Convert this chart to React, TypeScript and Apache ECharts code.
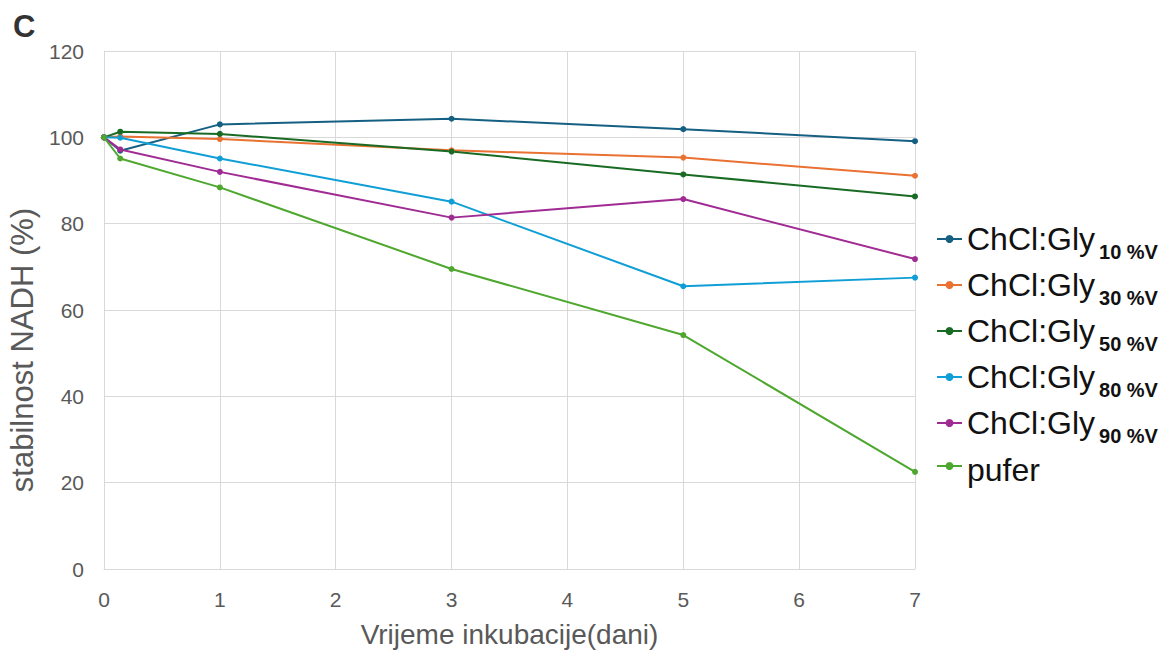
import React, { useEffect, useRef } from "react";
import * as echarts from "echarts";

const days = [0, 0.14, 1, 3, 5, 7];
const seriesNames = [
  "ChCl:Gly 10 %V",
  "ChCl:Gly 30 %V",
  "ChCl:Gly 50 %V",
  "ChCl:Gly 80 %V",
  "ChCl:Gly 90 %V",
  "pufer",
];
const gly10 = [100, 96.9, 103.0, 104.3, 101.9, 99.1];
const gly30 = [100, 100.2, 99.6, 97.0, 95.3, 91.1];
const gly50 = [100, 101.3, 100.8, 96.7, 91.4, 86.3];
const gly80 = [100, 99.9, 95.1, 85.1, 65.5, 67.5];
const gly90 = [100, 97.2, 92.0, 81.4, 85.7, 71.8];
const pufer = [100, 95.1, 88.4, 69.5, 54.2, 22.5];
const allValues = [gly10, gly30, gly50, gly80, gly90, pufer];
const colors = ["#156082", "#E97132", "#196B24", "#0F9ED5", "#A02B93", "#4EA72E"];

const FONT = "'Liberation Sans', Arial, sans-serif";

export default function App() {
  const ref = useRef<HTMLDivElement>(null);
  useEffect(() => {
    if (!ref.current) return;
    const chart = echarts.init(ref.current, undefined, { renderer: "svg" });
    chart.setOption({
      animation: false,
      textStyle: { fontFamily: FONT },
      graphic: [
        {
          type: "text",
          left: 5,
          top: 3,
          style: { text: "C", fontSize: 31, fontWeight: "bold", fill: "#333", fontFamily: FONT },
        },
      ],
      grid: { left: 96, right: 250, top: 43, bottom: 83, outerBoundsMode: "none", containLabel: false },
      legend: {
        orient: "vertical",
        left: 923,
        top: 203,
        itemGap: 0,
        itemWidth: 25,
        itemHeight: 10,
        data: seriesNames,
        formatter: (name: string) => {
          if (name.startsWith("ChCl:Gly ")) {
            return "{a|ChCl:Gly}{b|" + name.slice(9) + "}";
          }
          return "{p|" + name + "}";
        },
        textStyle: {
          color: "#000",
          rich: {
            a: { fontSize: 32, fontFamily: FONT, color: "#111", lineHeight: 44, verticalAlign: "middle" },
            p: { fontSize: 32, fontFamily: FONT, color: "#111", lineHeight: 44, verticalAlign: "middle", padding: [8, 0, 0, 0] },
            b: {
              fontSize: 20,
              fontWeight: "bold",
              fontFamily: FONT,
              color: "#111",
              lineHeight: 10,
              verticalAlign: "middle",
              padding: [26, 0, 0, 4],
            },
          },
        },
      },
      xAxis: {
        type: "value",
        min: 0,
        max: 7,
        interval: 1,
        name: "Vrijeme inkubacije(dani)",
        nameLocation: "middle",
        nameGap: 51,
        nameTextStyle: { fontSize: 28, color: "#595959", fontFamily: FONT },
        axisLine: { show: true, lineStyle: { color: "#d9d9d9" } },
        axisTick: { show: false },
        axisLabel: { fontSize: 21, color: "#595959", margin: 20, fontFamily: FONT },
        splitLine: { show: true, lineStyle: { color: "#d9d9d9", width: 1 } },
      },
      yAxis: {
        type: "value",
        min: 0,
        max: 120,
        interval: 20,
        name: "stabilnost NADH (%)",
        nameLocation: "middle",
        nameGap: 55,
        nameTextStyle: { fontSize: 31, color: "#595959", fontFamily: FONT, padding: [0, 80, 0, 0] },
        axisLine: { show: true, lineStyle: { color: "#d9d9d9" } },
        axisTick: { show: false },
        axisLabel: { fontSize: 21, color: "#595959", margin: 20, fontFamily: FONT },
        splitLine: { show: true, lineStyle: { color: "#d9d9d9", width: 1 } },
      },
      series: seriesNames.map((name, i) => ({
        name,
        type: "line",
        data: days.map((d, j) => [d, allValues[i][j]]),
        symbol: "circle",
        symbolSize: 6,
        color: colors[i],
        lineStyle: { width: 2, color: colors[i] },
        itemStyle: { color: colors[i] },
      })),
    });
    return () => chart.dispose();
  }, []);
  return <div ref={ref} style={{ width: 1157, height: 644 }} />;
}
